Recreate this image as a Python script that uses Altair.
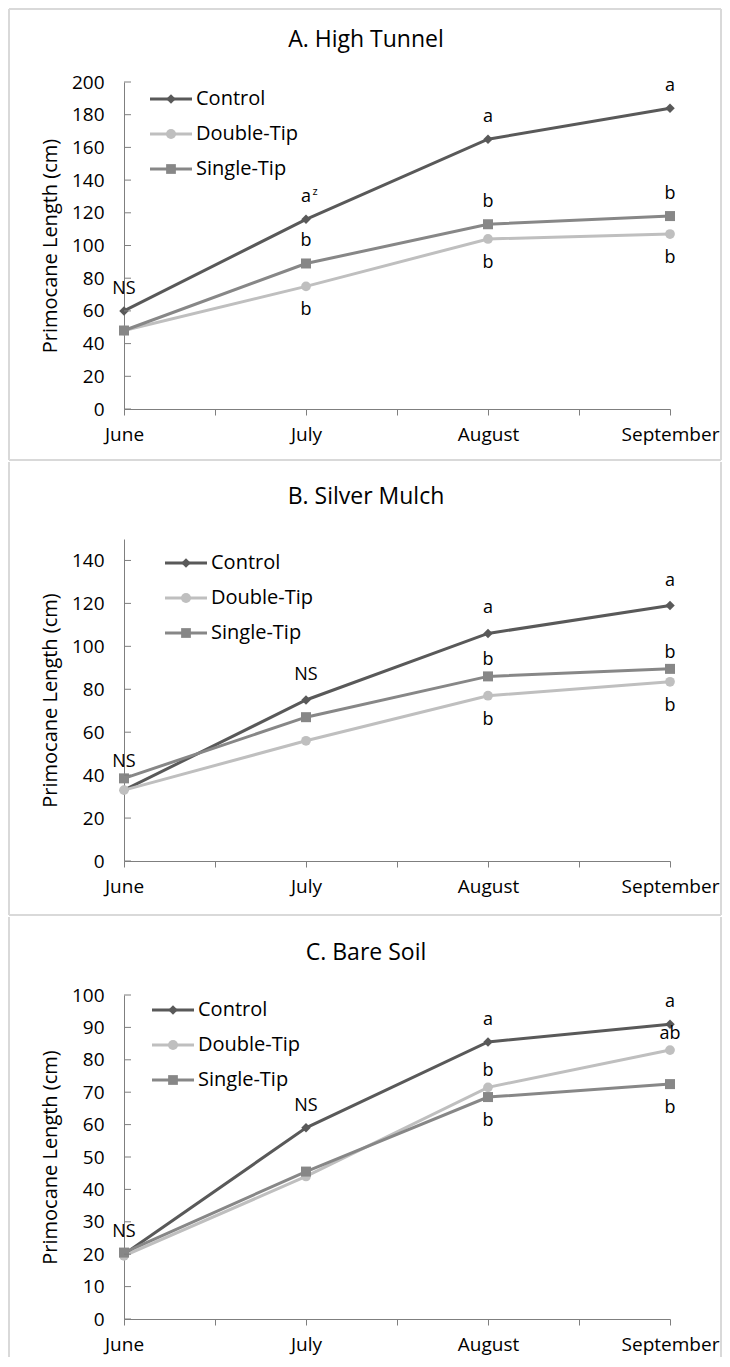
import altair as alt
import pandas as pd

FONT = "Open Sans"
TXT = "#000000"
AXIS_COL = "#7f7f7f"
FRAME_COL = "#d9d9d9"

months = ["June", "July", "August", "September"]
series = ["Control", "Double-Tip", "Single-Tip"]
colors = ["#595959", "#bfbfbf", "#878787"]
shapes = ["diamond", "circle", "square"]
marker_sizes = [90, 100, 95]

titles = ["A. High Tunnel", "B. Silver Mulch", "C. Bare Soil"]
y_title = "Primocane Length (cm)"

# Panel A - High Tunnel
a_control = [60, 116, 165, 184]
a_double = [48, 75, 104, 107]
a_single = [48, 89, 113, 118]
a_control_sig = ["NS", "a", "a", "a"]
a_double_sig = ["", "b", "b", "b"]
a_single_sig = ["", "b", "b", "b"]
a_control_sup = ["", "z", "", ""]
a_place = ["above", "below", "above"]
a_ticks = [0, 20, 40, 60, 80, 100, 120, 140, 160, 180, 200]
a_max = 200

# Panel B - Silver Mulch
b_control = [33, 75, 106, 119]
b_double = [33, 56, 77, 83.5]
b_single = [38.5, 67, 86, 89.5]
b_control_sig = ["", "NS", "a", "a"]
b_double_sig = ["", "", "b", "b"]
b_single_sig = ["NS", "", "b", "b"]
b_place = ["high", "below", "near"]
b_ticks = [0, 20, 40, 60, 80, 100, 120, 140]
b_max = 150

# Panel C - Bare Soil
c_control = [20, 59, 85.5, 91]
c_double = [19.5, 44, 71.5, 83]
c_single = [20.5, 45.5, 68.5, 72.5]
c_control_sig = ["NS", "NS", "a", "a"]
c_double_sig = ["", "", "b", "ab"]
c_single_sig = ["", "", "b", "b"]
c_place = ["above", "near", "below"]
c_ticks = [0, 10, 20, 30, 40, 50, 60, 70, 80, 90, 100]
c_max = 100

no_sup = ["", "", "", ""]

# label offsets (px) for each placement
place_dy = {"high": -25, "above": -22, "near": -16, "below": 24}

x_tick_vals = [i / 2 for i in range(2 * (len(months) - 1) + 1)]
month_js = "[" + ",".join("'" + m + "'" for m in months) + "]"
label_expr = f"datum.value % 1 === 0 ? {month_js}[datum.value] : ''"

LEG_LINE = 42      # legend line length (px)
LEG_STEP = 35      # legend row spacing (px)


def frame_rule(x1, x2, y1, y2):
    return alt.Chart(pd.DataFrame({"k": [0]})).mark_rule(
        color=FRAME_COL, strokeWidth=2
    ).encode(x=alt.value(x1), x2=alt.value(x2), y=alt.value(y1), y2=alt.value(y2))


FX0, FX1 = -115, 597


def legend_layers(lx, ly):
    out = []
    for i, (s, c, shp, sz) in enumerate(zip(series, colors, shapes, marker_sizes)):
        ry = ly + i * LEG_STEP
        d = alt.Chart(pd.DataFrame({"series": [s]}))
        out.append(d.mark_rule(color=c, strokeWidth=3).encode(
            x=alt.value(lx), x2=alt.value(lx + LEG_LINE), y=alt.value(ry)))
        out.append(d.mark_point(filled=True, opacity=1, color=c, shape=shp, size=sz).encode(
            x=alt.value(lx + LEG_LINE / 2), y=alt.value(ry)))
        out.append(d.mark_text(font=FONT, fontSize=20, color=TXT, align="left", baseline="middle").encode(
            x=alt.value(lx + LEG_LINE + 4), y=alt.value(ry), text="series:N"))
    return out


def make_panel(title, vals, sigs, sups, places, ymax, yticks, h, frame_top, frame_bottom,
               top_edge, bottom_edge, lx, ly):
    rows = []
    for si, s in enumerate(series):
        for mi, m in enumerate(months):
            rows.append({
                "series": s, "month": m, "idx": mi, "value": vals[si][mi],
                "sig": sigs[si][mi], "sup": sups[si][mi], "place": places[si],
            })
    df = pd.DataFrame(rows)

    x = alt.X(
        "idx:Q",
        scale=alt.Scale(domain=[0, len(months) - 1], nice=False, zero=False),
        axis=alt.Axis(
            values=x_tick_vals, labelExpr=label_expr, title=None, grid=False,
            domainColor=AXIS_COL, tickColor=AXIS_COL, tickSize=6, tickWidth=1, domainWidth=1,
            labelFont=FONT, labelFontSize=19, labelColor=TXT, labelPadding=10,
            labelFlush=False, labelOverlap=False,
        ),
    )
    y = alt.Y(
        "value:Q",
        scale=alt.Scale(domain=[0, ymax], nice=False),
        axis=alt.Axis(
            values=yticks, ticks=False, tickSize=0, grid=False,
            domainColor=AXIS_COL, domainWidth=1,
            labelFont=FONT, labelFontSize=19, labelColor=TXT, labelPadding=20,
            title=y_title, titleFont=FONT, titleFontSize=20, titleFontWeight="normal",
            titleColor=TXT, titleX=-68, titleBaseline="alphabetic",
        ),
    )
    color = alt.Color("series:N", scale=alt.Scale(domain=series, range=colors), legend=None)

    base = alt.Chart(df)
    lines = base.mark_line(strokeWidth=3).encode(x=x, y=y, color=color, detail="series:N")
    points = base.mark_point(filled=True, opacity=1).encode(
        x=x, y=y, color=color,
        shape=alt.Shape("series:N", scale=alt.Scale(domain=series, range=shapes), legend=None),
        size=alt.Size("series:N", scale=alt.Scale(domain=series, range=marker_sizes), legend=None),
    )
    texts = []
    for pl, dy in place_dy.items():
        texts.append(
            base.mark_text(font=FONT, fontSize=18, color=TXT, baseline="middle", dy=dy).encode(
                x=x, y=y, text="sig:N"
            ).transform_filter(f"datum.place === '{pl}' && datum.sig !== ''")
        )
    sup = base.mark_text(font=FONT, fontSize=11, color=TXT, baseline="middle", dx=9, dy=-27).encode(
        x=x, y=y, text="sup:N"
    ).transform_filter("datum.sup !== ''")

    tick_df = pd.DataFrame({"value": yticks})
    yticks_in = alt.Chart(tick_df).mark_rule(color=AXIS_COL, strokeWidth=1).encode(
        x=alt.value(0), x2=alt.value(7), y=y
    )

    frames = [frame_rule(FX0, FX0, frame_top, frame_bottom), frame_rule(FX1, FX1, frame_top, frame_bottom)]
    if top_edge:
        frames.append(frame_rule(FX0, FX1, frame_top, frame_top))
    if bottom_edge:
        frames.append(frame_rule(FX0, FX1, frame_bottom, frame_bottom))

    ttl = alt.Chart(pd.DataFrame({"t": [title]})).mark_text(
        font=FONT, fontSize=23, color=TXT, align="center", baseline="alphabetic"
    ).encode(x=alt.value(242), y=alt.value(-35), text="t:N")

    return alt.layer(*frames, ttl, lines, points, *texts, sup, yticks_in,
                     *legend_layers(lx, ly)).properties(width=546, height=h)


pA = make_panel(titles[0], [a_control, a_double, a_single],
                [a_control_sig, a_double_sig, a_single_sig],
                [a_control_sup, no_sup, no_sup], a_place, a_max, a_ticks,
                327, -73, 378, True, True, 26, 17)
pB = make_panel(titles[1], [b_control, b_double, b_single],
                [b_control_sig, b_double_sig, b_single_sig],
                [no_sup, no_sup, no_sup], b_place, b_max, b_ticks,
                322, -77, 376, False, True, 41, 24)
pC = make_panel(titles[2], [c_control, c_double, c_single],
                [c_control_sig, c_double_sig, c_single_sig],
                [no_sup, no_sup, no_sup], c_place, c_max, c_ticks,
                324, -78, 362, False, False, 28, 15)

chart = alt.vconcat(pA, pB, pC, spacing=0).resolve_scale(
    color="independent", shape="independent", size="independent"
).properties(padding=0).configure_view(strokeWidth=0)

chart.save("out.html", embed_options={"renderer": "svg", "actions": False})
